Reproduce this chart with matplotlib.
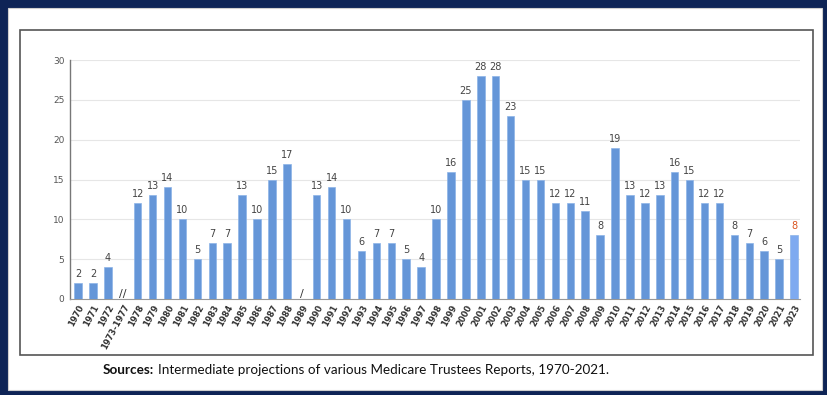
import numpy as np
import matplotlib
matplotlib.use("Agg")
import matplotlib.pyplot as plt
from matplotlib.patches import Rectangle

# categories along the x axis (gaps have no bar)
labels = ["1970", "1971", "1972", "1973-1977",
          "1978", "1979", "1980", "1981", "1982", "1983", "1984", "1985",
          "1986", "1987", "1988", "1989",
          "1990", "1991", "1992", "1993", "1994", "1995", "1996", "1997",
          "1998", "1999", "2000", "2001", "2002", "2003", "2004", "2005",
          "2006", "2007", "2008", "2009", "2010", "2011", "2012", "2013",
          "2014", "2015", "2016", "2017", "2018", "2019", "2020", "2021",
          "2023"]
values = [2, 2, 4, None,
          12, 13, 14, 10, 5, 7, 7, 13,
          10, 15, 17, None,
          13, 14, 10, 6, 7, 7, 5, 4,
          10, 16, 25, 28, 28, 23, 15, 15,
          12, 12, 11, 8, 19, 13, 12, 13,
          16, 15, 12, 12, 8, 7, 6, 5,
          8]
breaks = {"1973-1977": "//", "1989": "/"}
highlight = "2023"
yticks = [0, 5, 10, 15, 20, 25, 30]

W, H = 827, 395
fig = plt.figure(figsize=(W / 100, H / 100), dpi=100)
fig.patch.set_facecolor("#0e2456")

# white slide area and the chart box
fig.add_artist(Rectangle((8 / W, 5 / H), 814 / W, 382 / H, transform=fig.transFigure,
                         facecolor="white", edgecolor="#cfcfcf", lw=0.8, zorder=-2))
fig.add_artist(Rectangle((20 / W, 40 / H), 793 / W, 325 / H, transform=fig.transFigure,
                         facecolor="white", edgecolor="#555555", lw=1.2, zorder=-1))

ax = fig.add_axes([70 / W, 96 / H, 730 / W, 239 / H])
ax.set_zorder(2)
ax.set_facecolor("white")

x = np.arange(len(labels))
for xi, lab, v in zip(x, labels, values):
    if v is None:
        continue
    col = "#7eaaf0" if lab == highlight else "#6596d8"
    ax.bar(xi, v, width=0.5, color=col, edgecolor="#8db4e8", linewidth=0.5, zorder=3)
    ax.text(xi, v + 0.5, str(v), ha="center", va="bottom", fontsize=7,
            color="#d9531e" if lab == highlight else "#444444", zorder=4)

for xi, lab in zip(x, labels):
    if lab in breaks:
        ax.text(xi, 0, breaks[lab], ha="center", va="bottom", fontsize=8,
                color="#333333", zorder=4)

ax.set_xlim(-0.54, len(labels) - 0.6)
ax.set_ylim(0, 30)
ax.set_yticks(yticks)
ax.set_yticklabels([str(t) for t in yticks], fontsize=6.5, color="#555555")
ax.set_xticks(x)
ax.set_xticklabels(labels, rotation=62, ha="right", rotation_mode="anchor",
                   fontsize=6, fontweight="bold", color="#333333")
ax.tick_params(axis="both", length=0, pad=4)
ax.tick_params(axis="x", pad=3)

ax.grid(axis="y", color="#e6e6e6", lw=0.8, zorder=0)
for s in ["top", "right"]:
    ax.spines[s].set_visible(False)
ax.spines["left"].set_color("#777777")
ax.spines["bottom"].set_color("#999999")
ax.spines["left"].set_linewidth(1.0)
ax.spines["bottom"].set_linewidth(0.8)

# source note: bold lead-in, then plain text right after it
t1 = fig.text(103 / W, 1 - 370 / H, "Sources:", fontsize=9.7, fontweight="bold",
              family="Lato", color="#111111", va="center")
fig.canvas.draw()
bb = t1.get_window_extent()
fig.text((bb.x1 + 4) / W, 1 - 370 / H,
         "Intermediate projections of various Medicare Trustees Reports, 1970-2021.",
         fontsize=9.7, family="Lato", color="#111111", va="center")

fig.savefig("out.png", dpi=100, facecolor=fig.get_facecolor())
